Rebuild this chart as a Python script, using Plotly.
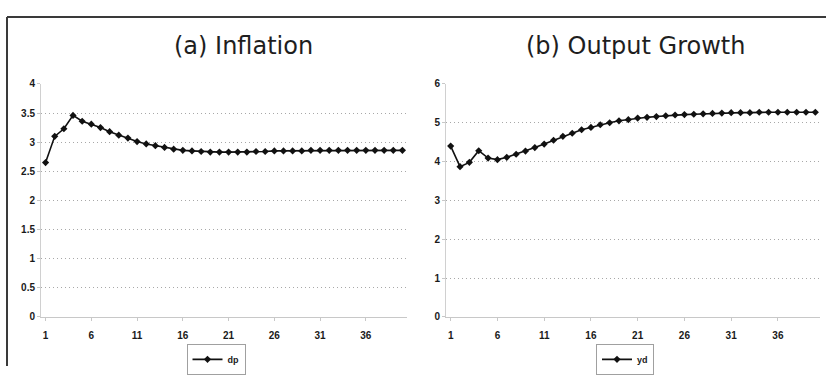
import plotly.graph_objects as go

# Horizon (periods after the shock)
periods = list(range(1, 41))

# Inflation response (dp)
dp = [2.65, 3.10, 3.23, 3.46, 3.36, 3.31, 3.25, 3.18, 3.12, 3.07,
      3.01, 2.97, 2.94, 2.91, 2.88, 2.86, 2.85, 2.84, 2.83, 2.83,
      2.83, 2.83, 2.83, 2.84, 2.84, 2.85, 2.85, 2.85, 2.85, 2.86,
      2.86, 2.86, 2.86, 2.86, 2.86, 2.86, 2.86, 2.86, 2.86, 2.86]

# Output growth response (yd)
yd = [4.40, 3.87, 3.98, 4.28, 4.09, 4.05, 4.11, 4.19, 4.27, 4.36,
      4.45, 4.55, 4.65, 4.73, 4.82, 4.88, 4.95, 5.00, 5.05, 5.08,
      5.12, 5.14, 5.16, 5.18, 5.20, 5.21, 5.22, 5.23, 5.24, 5.25,
      5.26, 5.26, 5.26, 5.27, 5.27, 5.27, 5.27, 5.27, 5.27, 5.27]

x_tickvals = [1, 6, 11, 16, 21, 26, 31, 36]
titles = ["(a) Inflation", "(b) Output Growth"]

W, H = 826, 375
line_style = dict(color="#111111", width=1.6)
marker_style = dict(symbol="diamond", size=5.5, color="#111111")

fig = go.Figure()
fig.add_trace(go.Scatter(x=periods, y=dp, name="dp", mode="lines+markers",
                         line=line_style, marker=marker_style,
                         xaxis="x", yaxis="y", legend="legend"))
fig.add_trace(go.Scatter(x=periods, y=yd, name="yd", mode="lines+markers",
                         line=line_style, marker=marker_style,
                         xaxis="x2", yaxis="y2", legend="legend2"))

tickfont = dict(family="Liberation Sans, Arial, sans-serif", size=10,
                color="#1a1a1a", weight="bold")

common_x = dict(range=[0.5, 40.5], tickmode="array", tickvals=x_tickvals,
                showgrid=False, zeroline=False, showline=True,
                linecolor="#c8c8c8", linewidth=1, ticks="outside",
                ticklen=3, tickcolor="#c8c8c8", tickfont=tickfont,
                ticklabelstandoff=6, fixedrange=True)
common_y = dict(showgrid=True, gridcolor="#a8a8a8", griddash="1px,3px",
                gridwidth=1, zeroline=False, showline=True,
                linecolor="#d0d0d0", linewidth=1, ticks="outside",
                ticklen=3, tickcolor="#c8c8c8", tickfont=tickfont,
                fixedrange=True)

y0, y1 = (H - 324) / H, (H - 82) / H
legend_font = dict(family="Liberation Sans, Arial, sans-serif", size=9,
                   color="#1a1a1a", weight="bold")

fig.update_layout(
    width=W, height=H,
    margin=dict(l=0, r=0, t=0, b=0),
    paper_bgcolor="white", plot_bgcolor="white",
    xaxis=dict(domain=[41 / W, 407 / W], anchor="y", **common_x),
    yaxis=dict(domain=[y0, y1], anchor="x", range=[0, 4], dtick=0.5,
               **common_y),
    xaxis2=dict(domain=[446 / W, 820 / W], anchor="y2", **common_x),
    yaxis2=dict(domain=[y0, y1], anchor="x2", range=[0, 6], dtick=1,
                **common_y),
    legend=dict(x=216 / W, y=(H - 352) / H, xanchor="center", yanchor="top",
                bordercolor="#a0a0a0", borderwidth=1, bgcolor="white",
                font=legend_font, itemwidth=30, tracegroupgap=0),
    legend2=dict(x=625 / W, y=(H - 352) / H, xanchor="center", yanchor="top",
                 bordercolor="#a0a0a0", borderwidth=1, bgcolor="white",
                 font=legend_font, itemwidth=30, tracegroupgap=0),
    showlegend=True,
)

# Panel titles
for txt, xc in zip(titles, [244, 635]):
    fig.add_annotation(text=txt, x=xc / W, y=(H - 43) / H, xref="paper",
                       yref="paper", showarrow=False, xanchor="center",
                       yanchor="middle",
                       font=dict(family="DejaVu Sans, sans-serif", size=24,
                                 color="#1e1e1e"))

# Frame lines along the top and left edge
fig.add_shape(type="line", xref="paper", yref="paper",
              x0=7 / W, x1=1, y0=(H - 12.5) / H, y1=(H - 12.5) / H,
              line=dict(color="#3a3a3a", width=2))
fig.add_shape(type="line", xref="paper", yref="paper",
              x0=7 / W, x1=7 / W, y0=0, y1=(H - 12.5) / H,
              line=dict(color="#3a3a3a", width=2))

fig.write_html("out.html", config={"displayModeBar": False})
